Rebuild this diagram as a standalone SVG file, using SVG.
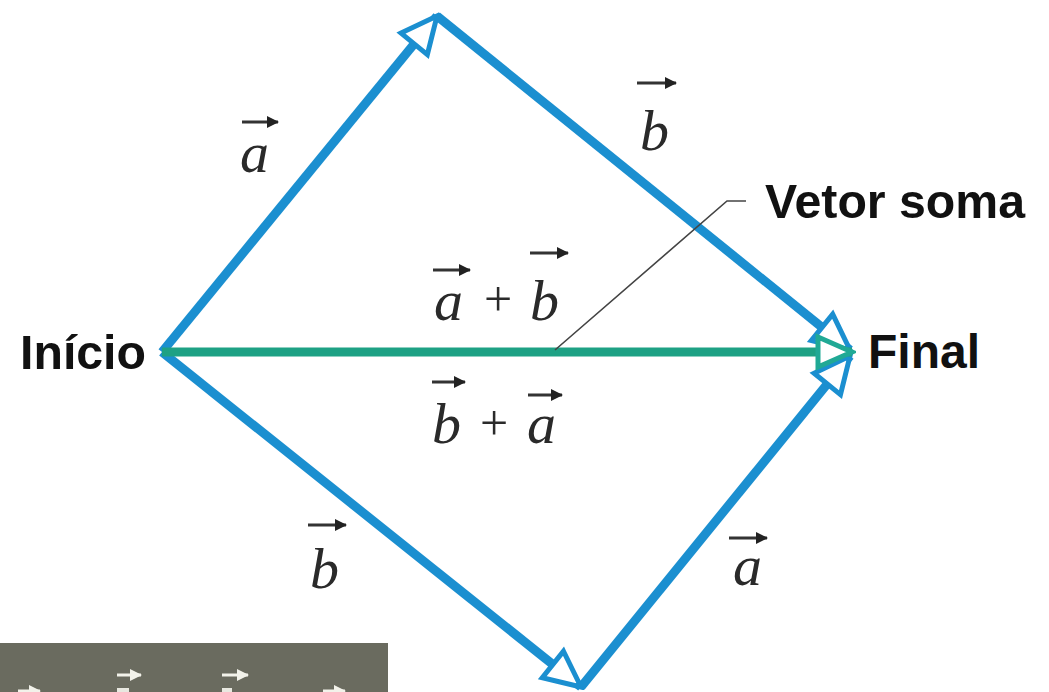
<svg xmlns="http://www.w3.org/2000/svg" width="1049" height="692" viewBox="0 0 1049 692">
<style>
.vec{fill:none;stroke:#1b8fd0;stroke-width:9;stroke-linejoin:miter}
.sum{fill:none;stroke:#1ea184;stroke-width:9}
.lbl{font-family:"Liberation Serif",serif;font-style:italic;font-size:58px;fill:#2a2a2a}
.op{font-family:"Liberation Serif",serif;font-size:50px;fill:#2a2a2a}
.ov{fill:none;stroke:#333;stroke-width:3}
.big{font-family:"Liberation Sans",Arial,sans-serif;font-weight:bold;font-size:48px;fill:#111}
.wa{fill:none;stroke:#f2f2ea;stroke-width:3}
</style>
<defs>
<marker id="headB" markerUnits="userSpaceOnUse" viewBox="-42 -22 46 44" refX="0" refY="0" markerWidth="46" markerHeight="44" orient="auto">
<path d="M-36,-17 L0,0 L-36,17 Z" fill="#fff" stroke="#1b8fd0" stroke-width="5" stroke-linejoin="miter"/>
</marker>
<marker id="headG" markerUnits="userSpaceOnUse" viewBox="-42 -22 46 44" refX="0" refY="0" markerWidth="46" markerHeight="44" orient="auto">
<path d="M-34,-15 L0,0 L-34,15 Z" fill="#fff" stroke="#20a995" stroke-width="5"/>
</marker>
<marker id="ovh" markerUnits="userSpaceOnUse" viewBox="-12 -7 14 14" refX="0" refY="0" markerWidth="14" markerHeight="14" orient="auto">
<path d="M-11,-6 L1,0 L-11,6 Z" fill="#222"/>
</marker>
<marker id="ovw" markerUnits="userSpaceOnUse" viewBox="-12 -7 14 14" refX="0" refY="0" markerWidth="14" markerHeight="14" orient="auto">
<path d="M-11,-6 L1,0 L-11,6 Z" fill="#f2f2ea"/>
</marker>
</defs>
<rect width="1049" height="692" fill="#ffffff"/>

<g id="connectors">
<path class="vec" d="M162,352 L437,16" marker-end="url(#headB)"/>
<path class="vec" d="M437,16 L850,350" marker-end="url(#headB)"/>
<path class="vec" d="M162,352 L581,687" marker-end="url(#headB)"/>
<path class="vec" d="M581,687 L850,356" marker-end="url(#headB)"/>
<path class="sum" d="M162,352 L852,352" marker-end="url(#headG)"/>
<path d="M555,350 L727,201 L746,201" fill="none" stroke="#444" stroke-width="1.6"/>
</g>

<g id="inicio">
<text class="big" x="20" y="369" textLength="126" lengthAdjust="spacingAndGlyphs">Início</text>
</g>
<g id="final">
<text class="big" x="868" y="368">Final</text>
</g>
<g id="vetor-soma">
<text class="big" x="765" y="218" textLength="260" lengthAdjust="spacingAndGlyphs">Vetor soma</text>
</g>

<g id="label-a-top">
<path class="ov" d="M242,122 L278,122" marker-end="url(#ovh)"/>
<text class="lbl" x="240" y="172">a</text>
</g>
<g id="label-b-top">
<path class="ov" d="M637,83 L676,83" marker-end="url(#ovh)"/>
<text class="lbl" x="640" y="150">b</text>
</g>
<g id="label-a-plus-b">
<path class="ov" d="M433,270 L470,270" marker-end="url(#ovh)"/>
<text class="lbl" x="434" y="320">a</text>
<text class="op" x="484" y="316">+</text>
<path class="ov" d="M530,253 L568,253" marker-end="url(#ovh)"/>
<text class="lbl" x="530" y="320">b</text>
</g>
<g id="label-b-plus-a">
<path class="ov" d="M432,382 L465,382" marker-end="url(#ovh)"/>
<text class="lbl" x="432" y="443">b</text>
<text class="op" x="480" y="440">+</text>
<path class="ov" d="M528,395 L562,395" marker-end="url(#ovh)"/>
<text class="lbl" x="527" y="443">a</text>
</g>
<g id="label-b-bottom">
<path class="ov" d="M308,525 L346,525" marker-end="url(#ovh)"/>
<text class="lbl" x="310" y="588">b</text>
</g>
<g id="label-a-bottom">
<path class="ov" d="M729,538 L767,538" marker-end="url(#ovh)"/>
<text class="lbl" x="733" y="585">a</text>
</g>

<g id="dark-box">
<rect x="0" y="643" width="388" height="49" fill="#6a6b5f"/>
<path class="wa" d="M18,691 L40,691" marker-end="url(#ovw)"/>
<path class="wa" d="M117,675 L141,675" marker-end="url(#ovw)"/>
<path class="wa" d="M222,675 L248,675" marker-end="url(#ovw)"/>
<path class="wa" d="M323,691 L345,691" marker-end="url(#ovw)"/>
<rect x="117" y="688" width="12" height="4" fill="#e8e8e0"/>
<rect x="222" y="688" width="10" height="4" fill="#e8e8e0"/>
</g>
</svg>
